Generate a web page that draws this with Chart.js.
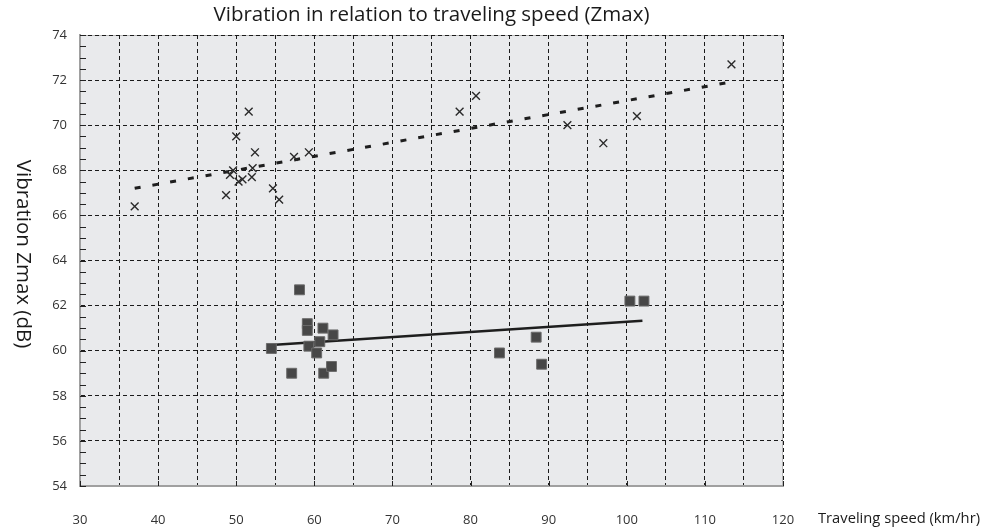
<!DOCTYPE html>
<html>
<head>
<meta charset="utf-8">
<script src="https://cdn.jsdelivr.net/npm/chart.js@4.4.1/dist/chart.umd.min.js"></script>
<style>
  html, body { margin: 0; padding: 0; background: #fff; }
  #wrap { width: 989px; height: 528px; }
</style>
</head>
<body>
<div id="wrap"><canvas id="vibChart"></canvas></div>
<script>
// Values
// Group 1 (x marks)
const crossSpeed = [37.0, 48.7, 49.2, 49.6, 50.0, 50.3, 50.8, 51.6, 52.0, 52.1, 52.4, 54.7, 55.5, 57.4, 59.3, 78.6, 80.7, 92.4, 97.0, 101.3, 113.4];
const crossZmax  = [66.4, 66.9, 67.8, 68.0, 69.5, 67.5, 67.6, 70.6, 67.7, 68.1, 68.8, 67.2, 66.7, 68.6, 68.8, 70.6, 71.3, 70.0, 69.2, 70.4, 72.7];
// Group 2 (squares)
const squareSpeed = [54.5, 57.1, 58.1, 59.1, 59.1, 59.3, 60.3, 60.7, 61.1, 61.2, 62.2, 62.4, 83.7, 88.4, 89.1, 100.4, 102.2];
const squareZmax  = [60.1, 59.0, 62.7, 61.2, 60.9, 60.2, 59.9, 60.4, 61.0, 59.0, 59.3, 60.7, 59.9, 60.6, 59.4, 62.2, 62.2];
// Trend lines (end points)
const crossTrendSpeed = [37.0, 113.1];
const crossTrendZmax  = [67.2, 71.9];
const squareTrendSpeed = [54.5, 102.0];
const squareTrendZmax  = [60.25, 61.33];

const chartTitle = 'Vibration in relation to traveling speed (Zmax)';
const xTitle = 'Traveling speed (km/hr)';
const yTitle = 'Vibration Zmax (dB)';

const toPoints = (xs, ys) => xs.map((x, i) => ({ x: x, y: ys[i] }));

const FONT = '"Open Sans", "Noto Sans", sans-serif';

// plot background, minor ticks and the text labels
const plotDecor = {
  id: 'plotDecor',
  beforeDraw(chart) {
    const { ctx, chartArea: a } = chart;
    ctx.save();
    ctx.fillStyle = '#e9eaec';
    ctx.fillRect(a.left, a.top, a.right - a.left, a.bottom - a.top);
    ctx.strokeStyle = '#b8b8b8';
    ctx.lineWidth = 1;
    ctx.strokeRect(a.left + 0.5, a.top + 0.5, a.right - a.left - 1, a.bottom - a.top - 1);
    ctx.restore();
  },
  beforeDatasetsDraw(chart) {
    const { ctx, chartArea: a, scales } = chart;
    ctx.save();
    ctx.strokeStyle = '#222';
    ctx.lineWidth = 1;
    ctx.beginPath();
    // small ticks every 0.5 on the left axis
    for (let v = scales.y.min; v <= scales.y.max; v += 0.5) {
      const y = Math.round(scales.y.getPixelForValue(v)) + 0.5;
      ctx.moveTo(a.left, y);
      ctx.lineTo(a.left + 6, y);
    }
    // small ticks every 10 on the bottom axis
    for (let v = scales.x.min; v <= scales.x.max; v += 10) {
      const x = Math.round(scales.x.getPixelForValue(v)) + 0.5;
      ctx.moveTo(x, a.bottom);
      ctx.lineTo(x, a.bottom - 5);
    }
    ctx.stroke();
    ctx.restore();
  },
  afterDraw(chart) {
    const { ctx, chartArea: a } = chart;
    ctx.save();
    ctx.fillStyle = '#1a1a1a';
    ctx.textBaseline = 'middle';
    ctx.font = '20.5px ' + FONT;
    ctx.textAlign = 'center';
    ctx.fillText(chartTitle, (a.left + a.right) / 2, 15);

    // condensed axis title, squeezed with maxWidth
    ctx.font = '15px ' + FONT;
    ctx.textAlign = 'left';
    ctx.fillText(xTitle, 818, 519, 162);

    ctx.translate(23, 254);
    ctx.rotate(Math.PI / 2);
    ctx.font = '20.5px ' + FONT;
    ctx.textAlign = 'center';
    ctx.fillText(yTitle, 0, 0);
    ctx.restore();
  }
};

new Chart(document.getElementById('vibChart'), {
  type: 'scatter',
  data: {
    datasets: [
      {
        label: 'Group 1',
        data: toPoints(crossSpeed, crossZmax),
        pointStyle: 'crossRot',
        pointRadius: 5.5,
        borderColor: '#2a2a2a',
        borderWidth: 1.4,
        backgroundColor: '#2a2a2a'
      },
      {
        label: 'Group 2',
        data: toPoints(squareSpeed, squareZmax),
        pointStyle: 'rect',
        pointRadius: 7,
        backgroundColor: '#474747',
        borderColor: '#6a6a6a',
        borderWidth: 1
      },
      {
        label: 'Trend 1',
        data: toPoints(crossTrendSpeed, crossTrendZmax),
        showLine: true,
        pointRadius: 0,
        borderColor: '#1e1e1e',
        borderWidth: 3,
        borderDash: [6, 12]
      },
      {
        label: 'Trend 2',
        data: toPoints(squareTrendSpeed, squareTrendZmax),
        showLine: true,
        pointRadius: 0,
        borderColor: '#1e1e1e',
        borderWidth: 2.5
      }
    ]
  },
  options: {
    responsive: true,
    maintainAspectRatio: false,
    devicePixelRatio: 1,
    animation: false,
    layout: { padding: { left: 0, right: 206, top: 35, bottom: 0 } },
    plugins: {
      legend: { display: false },
      tooltip: { enabled: false }
    },
    scales: {
      x: {
        type: 'linear',
        min: 30,
        max: 120,
        afterFit: s => { s.height = 42; },
        border: { display: true, color: '#a0a0a0', width: 2, dash: [4, 3] },
        grid: {
          drawTicks: false,
          lineWidth: 1,
          color: c => (c.tick && c.tick.value === 30 ? 'rgba(0,0,0,0)' : '#1a1a1a')
        },
        ticks: {
          stepSize: 5,
          padding: 26,
          color: '#333',
          font: { family: FONT, size: 13 },
          callback: v => (v % 10 === 0 ? String(v) : '')
        }
      },
      y: {
        type: 'linear',
        min: 54,
        max: 74,
        afterFit: s => { s.width = 80; },
        border: { display: true, color: '#a0a0a0', width: 2, dash: [4, 3] },
        grid: {
          drawTicks: false,
          lineWidth: 1,
          color: c => (c.tick && c.tick.value === 54 ? 'rgba(0,0,0,0)' : '#1a1a1a')
        },
        ticks: {
          stepSize: 2,
          padding: 13,
          color: '#333',
          font: { family: FONT, size: 13 }
        }
      }
    }
  },
  plugins: [plotDecor]
});
</script>
</body>
</html>
